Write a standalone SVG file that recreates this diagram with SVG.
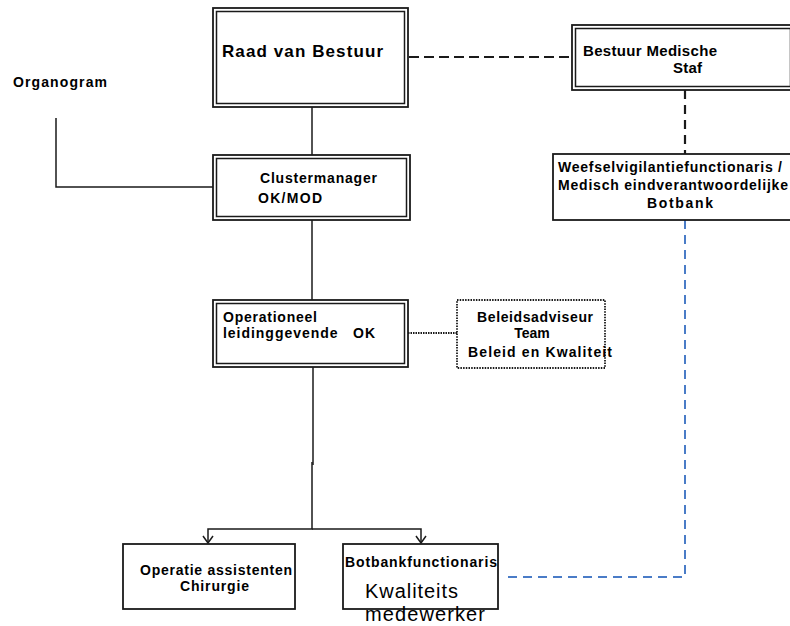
<svg xmlns="http://www.w3.org/2000/svg" width="790" height="626" viewBox="0 0 790 626">
<defs>
<style>
.o{fill:none;stroke:#1a1a1a;stroke-width:2}
.i{fill:none;stroke:#1a1a1a;stroke-width:1.5}
.s{fill:#fff;stroke:#1a1a1a;stroke-width:1.8}
.t{font-family:"Liberation Sans",Arial,sans-serif;font-weight:bold;font-size:14px;fill:#000}
.n{font-family:"Liberation Sans",Arial,sans-serif;font-size:20px;fill:#000}
.ln{fill:none;stroke:#1a1a1a;stroke-width:1.5}
</style>
<marker id="ah" viewBox="0 0 12 10" refX="6" refY="9" markerWidth="12" markerHeight="10" markerUnits="userSpaceOnUse" orient="0">
<path d="M1,2 L6,9 L11,2" fill="none" stroke="#1a1a1a" stroke-width="1.5"/>
</marker>
</defs>
<rect width="790" height="626" fill="#fff"/>
<g id="connectors">
<polyline class="ln" points="56,118 56,187 213,187" stroke="#666"/>
<line class="ln" x1="312" y1="107" x2="312" y2="155"/>
<line class="ln" x1="312" y1="220" x2="312" y2="300"/>
<polyline class="ln" points="313,367 313,465"/>
<polyline class="ln" points="312,462 312,529 208,529 208,543" marker-end="url(#ah)"/>
<polyline class="ln" points="312,529 421,529 421,543" marker-end="url(#ah)"/>
<line x1="409" y1="57" x2="571" y2="57" stroke="#1a1a1a" stroke-width="2" stroke-dasharray="10,5"/>
<line x1="685" y1="90" x2="685" y2="154" stroke="#1a1a1a" stroke-width="2.2" stroke-dasharray="9,6"/>
<line x1="408" y1="333" x2="457" y2="333" stroke="#1a1a1a" stroke-width="2" stroke-dasharray="1.5,1"/>
<polyline points="685,220 685,577 503,577" fill="none" stroke="#4a7cc7" stroke-width="2" stroke-dasharray="9,6"/>
</g>
<g id="organogram">
<text class="t" x="13" y="87" textLength="94">Organogram</text>
</g>
<g id="raad">
<rect class="s" x="213" y="8" width="195" height="99"/>
<rect class="i" x="216.5" y="11.5" width="188" height="92"/>
<text class="t" x="222" y="57" style="font-size:17px" textLength="161">Raad van Bestuur</text>
</g>
<g id="bestuur">
<rect class="s" x="572" y="25" width="222" height="65"/>
<rect class="i" x="575.5" y="28.5" width="215" height="58"/>
<text class="t" x="583" y="56" style="font-size:15px" textLength="134">Bestuur Medische</text>
<text class="t" x="673" y="73" style="font-size:15px" textLength="29">Staf</text>
</g>
<g id="weefsel">
<rect class="s" x="553" y="154" width="240" height="66"/>
<text class="t" x="558" y="172" textLength="224">Weefselvigilantiefunctionaris /</text>
<text class="t" x="558" y="190" textLength="230">Medisch eindverantwoordelijke</text>
<text class="t" x="680" y="208" text-anchor="middle" textLength="66">Botbank</text>
</g>
<g id="cluster">
<rect class="s" x="213" y="155" width="197" height="65"/>
<rect class="i" x="216.5" y="158.5" width="190" height="58"/>
<text class="t" x="260" y="183" textLength="117">Clustermanager</text>
<text class="t" x="258" y="203" textLength="64">OK/MOD</text>
</g>
<g id="operationeel">
<rect class="s" x="213" y="300" width="195" height="67"/>
<rect class="i" x="216.5" y="303.5" width="188" height="60"/>
<text class="t" x="223" y="322" textLength="94">Operationeel</text>
<text class="t" x="223" y="338" xml:space="preserve" textLength="152">leidinggevende   OK</text>
</g>
<g id="beleid">
<rect x="457" y="300" width="148" height="68" fill="#fff" stroke="#1a1a1a" stroke-width="1.8" stroke-dasharray="1.5,1.2"/>
<text class="t" x="477" y="322" textLength="116">Beleidsadviseur</text>
<text class="t" x="532" y="338" text-anchor="middle">Team</text>
<text class="t" x="468" y="357" textLength="144">Beleid en Kwaliteit</text>
</g>
<g id="operatie">
<rect class="s" x="123" y="544" width="172" height="65"/>
<text class="t" x="140" y="575" textLength="152">Operatie  assistenten</text>
<text class="t" x="180" y="591" textLength="69">Chirurgie</text>
</g>
<g id="botbank">
<rect class="s" x="343" y="544" width="155" height="65"/>
<text class="t" x="345" y="567" textLength="152">Botbankfunctionaris</text>
<text class="n" x="365" y="598" textLength="93">Kwaliteits</text>
<text class="n" x="365" y="621" textLength="120">medewerker</text>
</g>
</svg>
